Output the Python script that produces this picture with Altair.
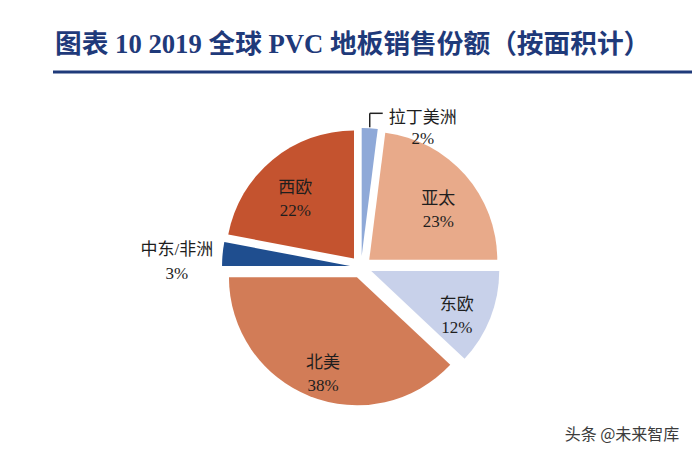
import altair as alt
import pandas as pd

regions = ["拉丁美洲", "亚太", "东欧", "北美", "中东/非洲", "西欧"]
shares = [2, 23, 12, 38, 3, 22]
colors = ["#8FA9D8", "#E8AA8A", "#C8D1EA", "#D27C57", "#1F4E8F", "#C4532F"]

title_text = "图表 10  2019 全球 PVC 地板销售份额（按面积计）"
watermark_text = "头条 @未来智库"

df = pd.DataFrame({
    "order": list(range(len(regions))),
    "region": regions,
    "share": shares,
})
df["label"] = [f"{r}\n{s}%" for r, s in zip(regions, shares)]

CX, CY, R, D = 353, 259, 128, 11
LABEL_FONT = "Liberation Serif, Noto Sans CJK SC"

base = alt.Chart(df).transform_window(
    cum="sum(share)", sort=[alt.SortField("order")], frame=[None, 0]
).transform_calculate(
    t0="(datum.cum - datum.share) / 100 * 2 * PI"
).transform_calculate(
    t1="datum.cum / 100 * 2 * PI"
).transform_calculate(
    mid="(datum.t0 + datum.t1) / 2"
).transform_calculate(
    cx=f"{CX} + {D} * sin(datum.mid)",
    cy=f"{CY} - {D} * cos(datum.mid)",
)

arcs = base.mark_arc(outerRadius=R).encode(
    theta=alt.Theta("t0:Q", scale=None),
    theta2="t1:Q",
    x=alt.X("cx:Q", scale=None),
    y=alt.Y("cy:Q", scale=None),
    color=alt.Color("region:N", scale=alt.Scale(domain=regions, range=colors), legend=None),
)

inner = base.transform_filter("datum.share >= 5").transform_calculate(
    lx=f"{CX} + 103 * sin(datum.mid)",
    ly=f"{CY} - 103 * cos(datum.mid)",
).mark_text(
    lineBreak="\n", font=LABEL_FONT, fontSize=17, lineHeight=23,
    baseline="middle", align="center", color="#1E1E1E",
).encode(
    x=alt.X("lx:Q", scale=None), y=alt.Y("ly:Q", scale=None), text="label:N"
)

mea = base.transform_filter("datum.region == '中东/非洲'").transform_calculate(
    lx=f"{CX} + 185 * sin(datum.mid)",
    ly=f"{CY} - 185 * cos(datum.mid)",
).mark_text(
    lineBreak="\n", font=LABEL_FONT, fontSize=17, lineHeight=24,
    baseline="middle", align="center", color="#1E1E1E",
).encode(
    x=alt.X("lx:Q", scale=None), y=alt.Y("ly:Q", scale=None), text="label:N"
)

latam_base = base.transform_filter("datum.region == '拉丁美洲'").transform_calculate(
    lx=f"{CX} + {R + D} * sin(datum.mid)",
    ly1=f"{CY} - {R + D + 1} * cos(datum.mid)",
    ly2=f"{CY} - {R + D + 15} * cos(datum.mid)",
).transform_calculate(
    lx2="datum.lx + 13",
    tx="datum.lx + 53",
    ty="datum.ly2 + 5",
)

latam_text = latam_base.mark_text(
    lineBreak="\n", font=LABEL_FONT, fontSize=17, lineHeight=21,
    baseline="middle", align="center", color="#1E1E1E",
).encode(
    x=alt.X("tx:Q", scale=None), y=alt.Y("ty:Q", scale=None), text="label:N"
)

leader_v = latam_base.mark_rule(color="#222222", strokeWidth=1.5).encode(
    x=alt.X("lx:Q", scale=None),
    y=alt.Y("ly1:Q", scale=None),
    y2="ly2:Q",
)
leader_h = latam_base.mark_rule(color="#222222", strokeWidth=1.5).encode(
    x=alt.X("lx:Q", scale=None),
    x2="lx2:Q",
    y=alt.Y("ly2:Q", scale=None),
)

title = alt.Chart(pd.DataFrame({"t": [title_text]})).mark_text(
    font="Liberation Serif, Noto Sans CJK SC", fontSize=26.7, fontWeight="bold",
    color="#1F3A7A", align="left", baseline="middle",
).encode(x=alt.value(47), y=alt.value(37), text="t:N")

underline = alt.Chart(pd.DataFrame({"t": [0]})).mark_rule(
    color="#1F3A7A", strokeWidth=3
).encode(x=alt.value(45), x2=alt.value(684), y=alt.value(64))

watermark = alt.Chart(pd.DataFrame({"t": [watermark_text]})).mark_text(
    font="Noto Sans CJK SC", fontSize=16, color="#3C3C3C",
    align="center", baseline="middle",
).encode(x=alt.value(614), y=alt.value(427), text="t:N")

chart = alt.layer(
    arcs, inner, mea, leader_v, leader_h, latam_text, title, underline, watermark
).properties(
    width=684, height=441, padding=0,
    autosize=alt.AutoSizeParams(type="none"),
).configure_view(stroke=None)

chart.save("out.html", embed_options={"renderer": "svg", "actions": False})
